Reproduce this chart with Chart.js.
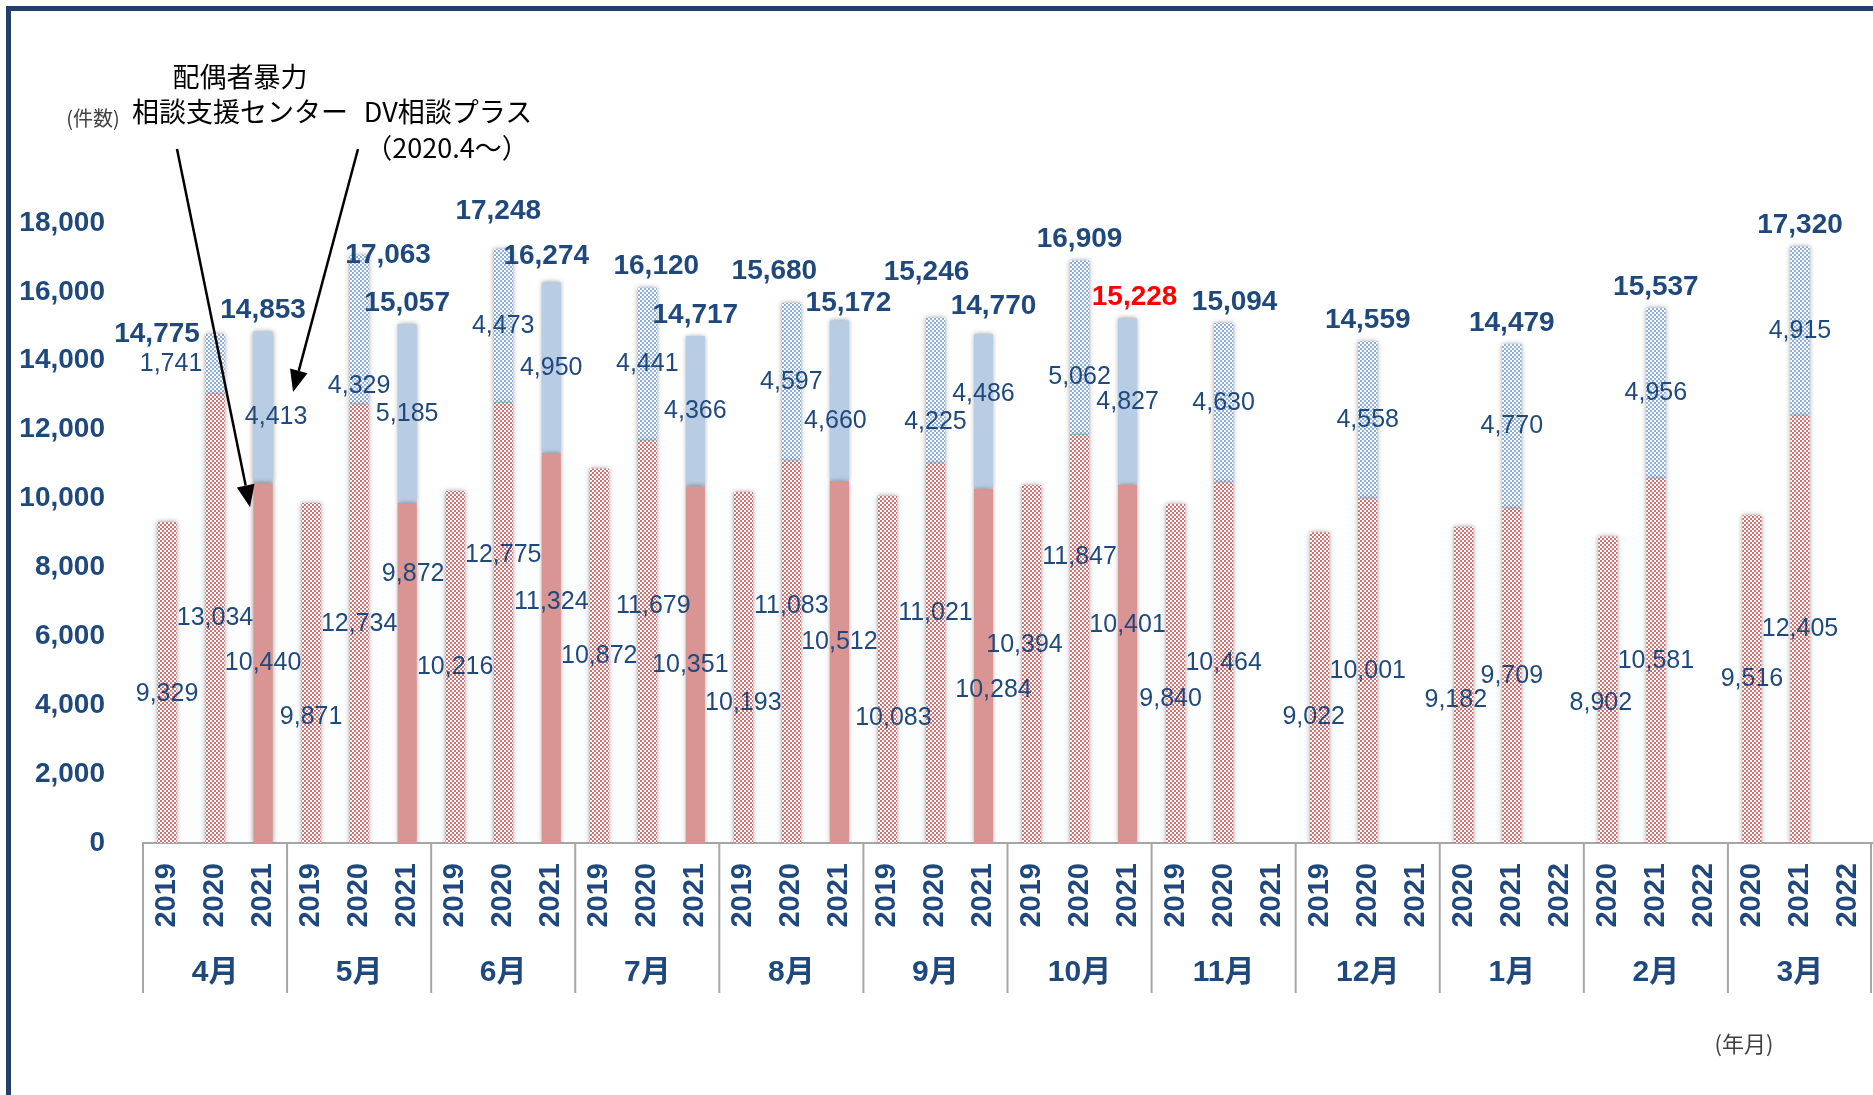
<!DOCTYPE html>
<html lang="ja">
<head>
<meta charset="utf-8">
<script src="https://cdn.jsdelivr.net/npm/chart.js@4/dist/chart.umd.min.js"></script>
<style>
  html, body { margin: 0; padding: 0; background: #fff; }
  #wrap { position: relative; width: 1873px; height: 1095px; overflow: hidden; background: #fff; }
  #frame { position: absolute; left: 6px; top: 6px; width: 1900px; height: 1120px; border: 5px solid #253F6B; box-sizing: border-box; }
  canvas { position: absolute; left: 0; top: 0; }
  .note { position: absolute; transform: translate(-50%, -50%); white-space: nowrap; line-height: 1;
          font-family: 'Noto Sans CJK JP', sans-serif; color: #000; }
</style>
</head>
<body>
<div id="wrap">
  <div id="frame"></div>
  <canvas id="chart" width="1873" height="1095"></canvas>
  <div class="note" style="left:93px;top:118px;font-size:20px;color:#404040">(件数)</div>
  <div class="note" style="left:240px;top:75px;font-size:27px">配偶者暴力</div>
  <div class="note" style="left:240px;top:110px;font-size:27px">相談支援センター</div>
  <div class="note" style="left:448px;top:110px;font-size:27px">DV相談プラス</div>
  <div class="note" style="left:447px;top:146px;font-size:27px">（2020.4～）</div>
  <div class="note" style="left:1744px;top:1042px;font-size:22px;color:#404040">(年月)</div>
</div>
<script>
// Monthly consultation counts, three fiscal-year slots per month

const months = ['4月', '5月', '6月', '7月', '8月', '9月', '10月', '11月', '12月', '1月', '2月', '3月'];
const startYears = [2019, 2019, 2019, 2019, 2019, 2019, 2019, 2019, 2019, 2020, 2020, 2020];

// 配偶者暴力相談支援センター
const centerFirst = [9329, 9871, 10216, 10872, 10193, 10083, 10394, 9840, 9022, 9182, 8902, 9516];
const centerSecond = [13034, 12734, 12775, 11679, 11083, 11021, 11847, 10464, 10001, 9709, 10581, 12405];
const centerThird = [10440, 9872, 11324, 10351, 10512, 10284, 10401, null, null, null, null, null];

// DV相談プラス (2020.4～)
const dvSecond = [1741, 4329, 4473, 4441, 4597, 4225, 5062, 4630, 4558, 4770, 4956, 4915];
const dvThird = [4413, 5185, 4950, 4366, 4660, 4486, 4827, null, null, null, null, null];

const yMax = 18000;
const yStep = 2000;

const navy = '#1F497D';
const numFont = "'Liberation Sans', Arial, 'Noto Sans CJK JP', sans-serif";

// flatten to one bar slot per year
const yearLabels = [];
const centerVals = [];
const dvVals = [];
months.forEach((m, i) => {
  for (let k = 0; k < 3; k++) yearLabels.push(String(startYears[i] + k));
  centerVals.push(centerFirst[i], centerSecond[i], centerThird[i]);
  dvVals.push(null, dvSecond[i], dvThird[i]);
});

// latest month of the current year gets a red total
let latest = -1;
dvVals.forEach((v, i) => { if (v !== null && i % 3 === 2) latest = i; });

// hand-placed label offsets [dx, dy] in px, as moved in the original
const nudgeCenter = {
  0: [0, 12], 3: [0, 44], 12: [0, 36], 15: [6, 49], 18: [-7, -19], 21: [-5, 26], 24: [-6, 29],
  27: [-8, 15], 30: [-7, 13], 7: [0, -68], 10: [6, -36], 13: [0, -46], 16: [0, -40], 19: [0, -82],
  5: [6, -99], 8: [0, -46], 14: [0, -20], 17: [10, 24], 20: [0, -39], 11: [-5, 0]
};
const nudgeDv = {
  1: [-44, 0], 4: [0, 56], 16: [0, 31], 19: [0, 29], 2: [13, 10], 14: [-4, 20], 17: [0, -17]
};
const nudgeTotal = {
  1: [-58, 21], 4: [29, 21], 7: [-5, -17], 10: [9, 0], 13: [-17, -11], 14: [9, 4],
  16: [-9, -25], 17: [10, -7], 20: [7, 0], 22: [11, 0], 8: [-5, -5]
};

function checker(color) {
  const c = document.createElement('canvas');
  c.width = 4; c.height = 4;
  const g = c.getContext('2d');
  g.fillStyle = '#fff';
  g.fillRect(0, 0, 4, 4);
  g.fillStyle = color;
  g.fillRect(0, 0, 2, 2);
  g.fillRect(2, 2, 2, 2);
  return g.createPattern(c, 'repeat');
}

const redPattern = checker('#D47070');
const bluePattern = checker('#8CAEDB');
const redSolid = '#D99594';
const blueSolid = '#B8CCE4';

const fmt = v => v.toLocaleString('en-US');

const shadowPlugin = {
  id: 'barShadow',
  beforeDatasetsDraw(chart) {
    const ctx = chart.ctx;
    ctx.save();
    ctx.shadowColor = 'rgba(0, 0, 0, 0.4)';
    ctx.shadowBlur = 5;
  },
  afterDatasetsDraw(chart) {
    chart.ctx.restore();
  }
};

const labelPlugin = {
  id: 'barLabels',
  afterDatasetsDraw(chart) {
    const ctx = chart.ctx;
    const segBars = chart.getDatasetMeta(0).data;
    const dvBars = chart.getDatasetMeta(1).data;
    ctx.save();
    ctx.textAlign = 'center';
    ctx.textBaseline = 'middle';

    // segment values
    ctx.font = `25px ${numFont}`;
    ctx.fillStyle = navy;
    [[segBars, centerVals, nudgeCenter], [dvBars, dvVals, nudgeDv]].forEach(([bars, vals, nudge]) => {
      vals.forEach((v, i) => {
        if (v === null) return;
        const b = bars[i];
        const [dx, dy] = nudge[i] || [0, 0];
        ctx.fillText(fmt(v), b.x + dx, (b.y + b.base) / 2 + dy);
      });
    });

    // totals
    ctx.font = `bold 28px ${numFont}`;
    dvVals.forEach((v, i) => {
      if (v === null) return;
      const b = dvBars[i];
      const [dx, dy] = nudgeTotal[i] || [0, 0];
      ctx.fillStyle = i === latest ? '#FF0000' : navy;
      ctx.fillText(fmt(v + centerVals[i]), b.x + dx, b.y - 21 + dy);
    });
    ctx.restore();
  }
};

function arrow(ctx, x0, y0, x1, y1) {
  const ang = Math.atan2(y1 - y0, x1 - x0);
  const len = 22, half = 9;
  const bx = x1 - len * Math.cos(ang), by = y1 - len * Math.sin(ang);
  ctx.beginPath();
  ctx.moveTo(x0, y0);
  ctx.lineTo(bx, by);
  ctx.stroke();
  ctx.beginPath();
  ctx.moveTo(x1, y1);
  ctx.lineTo(bx + half * Math.sin(ang), by - half * Math.cos(ang));
  ctx.lineTo(bx - half * Math.sin(ang), by + half * Math.cos(ang));
  ctx.closePath();
  ctx.fill();
}

const axisPlugin = {
  id: 'monthAxis',
  afterDraw(chart) {
    const ctx = chart.ctx;
    const xs = chart.scales.x, ys = chart.scales.y;
    const area = chart.chartArea;
    const bottom = area.bottom;
    ctx.save();

    // month group separators
    ctx.strokeStyle = '#A6A6A6';
    ctx.lineWidth = 2;
    for (let g = 0; g <= months.length; g++) {
      let x;
      if (g === 0) x = area.left;
      else if (g === months.length) x = area.right - 1;
      else x = (xs.getPixelForValue(3 * g - 1) + xs.getPixelForValue(3 * g)) / 2;
      ctx.beginPath();
      ctx.moveTo(x, bottom);
      ctx.lineTo(x, bottom + 150);
      ctx.stroke();
    }

    // month names
    ctx.fillStyle = navy;
    ctx.font = `bold 30px ${numFont}`;
    ctx.textAlign = 'center';
    ctx.textBaseline = 'middle';
    months.forEach((m, g) => {
      ctx.fillText(m, xs.getPixelForValue(3 * g + 1), bottom + 130);
    });

    // callout arrows to the 2021 April bar
    const bx = xs.getPixelForValue(2);
    ctx.strokeStyle = '#000';
    ctx.fillStyle = '#000';
    ctx.lineWidth = 2.5;
    arrow(ctx, 177, 149, bx - 13, ys.getPixelForValue(9750));
    arrow(ctx, 358, 149, bx + 30, ys.getPixelForValue(13090));
    ctx.restore();
  }
};

const slotStyle = (pattern, solid) => ctx => (ctx.dataIndex % 3 === 2 ? solid : pattern);

new Chart(document.getElementById('chart'), {
  type: 'bar',
  data: {
    labels: yearLabels,
    datasets: [
      {
        label: '配偶者暴力相談支援センター',
        data: centerVals,
        backgroundColor: slotStyle(redPattern, redSolid),
        barPercentage: 0.4,
        categoryPercentage: 1.0
      },
      {
        label: 'DV相談プラス',
        data: dvVals,
        backgroundColor: slotStyle(bluePattern, blueSolid),
        barPercentage: 0.4,
        categoryPercentage: 1.0
      }
    ]
  },
  options: {
    responsive: false,
    animation: false,
    layout: { padding: { left: 0, right: 1, top: 223, bottom: 0 } },
    plugins: {
      legend: { display: false },
      tooltip: { enabled: false }
    },
    scales: {
      x: {
        stacked: true,
        grid: { display: false, drawTicks: false },
        border: { display: true, color: '#A6A6A6', width: 2 },
        ticks: {
          autoSkip: false,
          minRotation: 90,
          maxRotation: 90,
          padding: 20,
          color: navy,
          font: { family: numFont, size: 29, weight: 'bold' }
        },
        afterFit(s) {
          s.height = 252;
          s.paddingLeft = 0;
          s.paddingRight = 0;
        }
      },
      y: {
        stacked: true,
        min: 0,
        max: yMax,
        grid: { display: false, drawTicks: false },
        border: { display: false },
        ticks: {
          stepSize: yStep,
          padding: 38,
          color: navy,
          font: { family: numFont, size: 28, weight: 'bold' },
          callback: v => fmt(v)
        },
        afterFit(s) {
          s.width = 143;
          s.paddingTop = 0;
          s.paddingBottom = 0;
        }
      }
    }
  },
  plugins: [shadowPlugin, labelPlugin, axisPlugin]
});
</script>
</body>
</html>
